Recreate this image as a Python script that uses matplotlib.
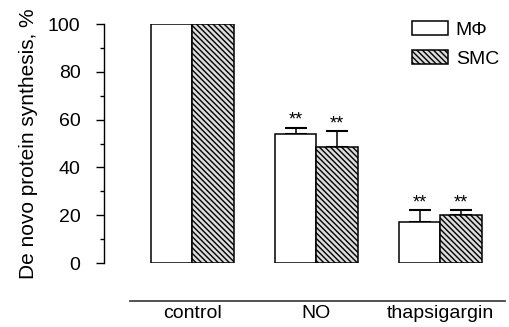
import numpy as np
import matplotlib.pyplot as plt

# Dados
grupos = ["control", "NO", "thapsigargin"]
mphi = [100, 54, 17]
mphi_err = [0, 2.6, 5.2]
smc = [100, 48.5, 20]
smc_err = [0, 6.7, 2.1]
signif_mphi = ["", "**", "**"]
signif_smc = ["", "**", "**"]

plt.rcParams["font.family"] = ["Liberation Sans", "DejaVu Sans"]
plt.rcParams["hatch.color"] = "#7a7a7a"
plt.rcParams["hatch.linewidth"] = 1.0

fig = plt.figure(figsize=(5.09, 3.27), dpi=100)
ax = fig.add_axes([0.2043, 0.1957, 0.79, 0.7309])

x = np.arange(len(grupos))
w = 0.336

ax.bar(x - w / 2, mphi, w, color="white", edgecolor="black", linewidth=1.1,
       label="M\u03a6", zorder=2)
ax.bar(x + w / 2, smc, w, color="#dcdcdc", edgecolor="black", linewidth=1.1,
       hatch="\\\\\\\\\\\\", label="SMC", zorder=2)

# barras de erro (somente para cima) e asteriscos
for i in range(len(grupos)):
    if mphi_err[i] > 0:
        ax.errorbar(x[i] - w / 2, mphi[i], yerr=[[0], [mphi_err[i]]], fmt="none",
                    ecolor="black", elinewidth=1.1, capsize=7.8, capthick=1.5, zorder=1)
    if smc_err[i] > 0:
        ax.errorbar(x[i] + w / 2, smc[i], yerr=[[0], [smc_err[i]]], fmt="none",
                    ecolor="black", elinewidth=1.1, capsize=7.8, capthick=1.5, zorder=1)
    ax.text(x[i] - w / 2, mphi[i] + mphi_err[i] + 1.2, signif_mphi[i],
            ha="center", va="baseline", fontsize=13)
    ax.text(x[i] + w / 2, smc[i] + smc_err[i] + 1.2, signif_smc[i],
            ha="center", va="baseline", fontsize=13)

ax.set_xlim(-0.713, 2.53)
ax.set_ylim(0, 100)
ax.set_yticks(range(0, 101, 20))
ax.set_yticks(range(10, 100, 20), minor=True)
ax.tick_params(axis="y", which="major", length=5.5, width=1, labelsize=14, pad=11.5)
ax.tick_params(axis="y", which="minor", length=3, width=1)
ax.set_xticks(x)
ax.set_xticklabels(grupos)
ax.tick_params(axis="x", length=0, pad=3, labelsize=14)

ax.spines["top"].set_visible(False)
ax.spines["right"].set_visible(False)
ax.spines["bottom"].set_position(("outward", 27))
ax.spines["bottom"].set_bounds(-0.5, 2.52)
ax.spines["bottom"].set_color("#444444")
ax.spines["bottom"].set_linewidth(1.3)
ax.spines["left"].set_linewidth(1)

ax.set_ylabel("De novo protein synthesis, %", fontsize=15, labelpad=7)

ax.legend(loc="upper left", bbox_to_anchor=(0.8094, 0.936),
          bbox_transform=fig.transFigure, frameon=False, fontsize=14,
          borderpad=0, borderaxespad=0, handlelength=1.85, handleheight=0.72,
          handletextpad=0.4, labelspacing=0.6)

fig.savefig("out.png", dpi=100)
